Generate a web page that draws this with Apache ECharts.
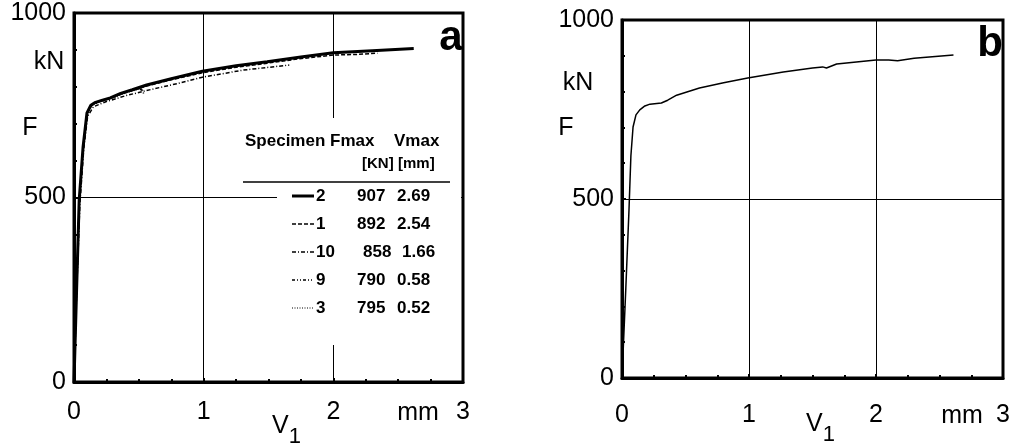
<!DOCTYPE html>
<html><head><meta charset="utf-8">
<script src="https://cdn.jsdelivr.net/npm/echarts@6/dist/echarts.min.js"></script>
<style>html,body{margin:0;padding:0;background:#fff}#c{width:1019px;height:448px}</style>
</head><body><div id="c"></div>
<script>
// ---- data ----
const xTicks = [0, 1, 2, 3];
const yTicks = [0, 500, 1000];
const spec2  = [[0,0],[0.02,250],[0.04,493],[0.07,637],[0.10,729],[0.13,750],[0.16,757],[0.22,764],[0.28,770],[0.36,782],[0.45,792],[0.56,805],[0.75,822],[0.99,842],[1.25,857],[1.49,868],[1.75,881],[2.0,892],[2.3,898],[2.62,904]];
const spec1  = [[0,0],[0.02,245],[0.04,488],[0.07,632],[0.10,726],[0.13,748],[0.16,755],[0.22,762],[0.28,768],[0.36,780],[0.45,790],[0.56,802],[0.75,819],[0.99,838],[1.25,853],[1.49,864],[1.74,876],[2.0,886],[2.2,888],[2.34,891]];
const spec10 = [[0,0],[0.02,240],[0.045,480],[0.075,630],[0.105,720],[0.15,746],[0.25,760],[0.4,776],[0.56,790],[0.8,809],[0.99,826],[1.3,845],[1.66,859]];
const spec9  = [[0,0],[0.02,245],[0.04,485],[0.07,635],[0.10,727],[0.14,752],[0.2,760],[0.3,772],[0.42,788],[0.5,795],[0.53,790],[0.54,778]];
const spec3  = [[0,0],[0.02,242],[0.042,482],[0.072,633],[0.10,725],[0.14,750],[0.2,759],[0.3,770],[0.42,786],[0.52,795]];
const panelB = [[0,0],[0.03,250],[0.055,469],[0.07,620],[0.087,701],[0.11,735],[0.14,749],[0.18,760],[0.22,765],[0.31,768],[0.36,776],[0.43,790],[0.61,810],[0.8,825],[0.99,838],[1.27,855],[1.5,866],[1.58,869],[1.61,866],[1.69,877],[2.0,888],[2.1,888],[2.17,886],[2.3,893],[2.61,902]];
const legSpec = ['2', '1', '10', '9', '3'];
const legFmax = ['907', '892', '858', '790', '795'];
const legVmax = ['2.69', '2.54', '1.66', '0.58', '0.52'];

const FONT = '"Liberation Sans", Arial, sans-serif';
const dashes = [null, [4,2], [4,2,1,2], [3,2,1,2,1,2], [1,1.5]];
const widths = [3, 1.5, 1.5, 1.5, 1.2];

const chart = echarts.init(document.getElementById('c'), null, {renderer:'canvas'});

function xAx(gi, margin, gap, pad){
  return {type:'value', gridIndex:gi, min:0, max:3, interval:1,
    axisLine:{show:true, onZero:false, lineStyle:{color:'#000', width:3}},
    axisTick:{show:true, inside:true, length:4, lineStyle:{color:'#000', width:2}},
    minorTick:{show:true, splitNumber:4, length:3, lineStyle:{color:'#000', width:2}},
    splitLine:{show:true, lineStyle:{color:'#000', width:1}},
    axisLabel:{show:true, color:'#000', fontSize:25, fontFamily:FONT, margin:margin,
      formatter:v=> xTicks.includes(v) ? String(v) : ''},
    name:'V{s|1}', nameLocation:'middle', nameGap:gap, nameMoveOverlap:false,
    nameTextStyle:{color:'#000', fontSize:25, fontFamily:FONT, padding:[0,0,0,pad],
      rich:{s:{fontSize:22, fontFamily:FONT, color:'#000', padding:[22,0,0,0]}}}
  };
}
function yAx(gi){
  return {type:'value', gridIndex:gi, min:0, max:1000, interval:500,
    axisLine:{show:true, onZero:false, lineStyle:{color:'#000', width:3}},
    axisTick:{show:true, inside:true, length:4, lineStyle:{color:'#000', width:2}},
    minorTick:{show:true, splitNumber:5, length:3, lineStyle:{color:'#000', width:2}},
    splitLine:{show:true, lineStyle:{color:'#000', width:1}},
    axisLabel:{show:true, color:'#000', fontSize:25, fontFamily:FONT, margin:8,
      formatter:v=> yTicks.includes(v) ? String(v) : ''}
  };
}

const specData = [spec2, spec1, spec10, spec9, spec3];
const series = specData.map((d,i)=>({
  type:'line', xAxisIndex:0, yAxisIndex:0, data:d, showSymbol:false, smooth:false,
  lineStyle:{color:'#000', width:widths[i], type: dashes[i] || 'solid'}, z: 5 - i
}));
series.push({type:'line', xAxisIndex:1, yAxisIndex:1, data:panelB, showSymbol:false,
  lineStyle:{color:'#000', width:1.5}});

const g = [];
function txt(text, x, y, size, weight, align){
  g.push({type:'text', x:x, y:y, z:100, style:{text:text, font:(weight||'normal')+' '+size+'px '+FONT, fill:'#000', align:align||'left', verticalAlign:'middle'}});
}
// legend box (panel a)
g.push({type:'rect', z:90, shape:{x:277, y:118, width:184, height:227}, style:{fill:'#fff'}});
txt('Specimen', 245, 141, 17, 'bold');
txt('Fmax', 330, 141, 17, 'bold');
txt('Vmax', 394, 141, 17, 'bold');
txt('[KN]', 362, 164, 15, 'bold');
txt('[mm]', 398, 164, 15, 'bold');
g.push({type:'line', z:100, shape:{x1:243, y1:182, x2:450, y2:182}, style:{stroke:'#000', lineWidth:1.5}});
const rowY = [196, 224, 252, 280, 308];
legSpec.forEach((s,i)=>{
  g.push({type:'line', z:100, shape:{x1:292, y1:rowY[i], x2:314, y2:rowY[i]},
    style:{stroke:'#000', lineWidth:widths[i], lineDash:dashes[i]}});
  txt(s, 316, rowY[i], 17, 'bold');
  txt(legFmax[i], s==='10'?363:357, rowY[i], 17, 'bold');
  txt(legVmax[i], s==='10'?402:397, rowY[i], 17, 'bold');
});
// unit and symbol labels
txt('kN', 49, 62, 25, 'normal', 'center');
txt('F', 30, 128, 25, 'normal', 'center');
txt('kN', 578, 83, 25, 'normal', 'center');
txt('F', 566, 128, 25, 'normal', 'center');
txt('mm', 418, 413, 25, 'normal', 'center');
txt('mm', 962, 416, 25, 'normal', 'center');
txt('a', 451, 38, 42, 'bold', 'center');
txt('b', 990, 44, 42, 'bold', 'center');

chart.setOption({
  animation:false,
  backgroundColor:'#fff',
  grid:[
    {left:74, top:13, width:389, height:369, show:true, borderColor:'#000', borderWidth:3, outerBoundsMode:'none', containLabel:false},
    {left:622, top:20, width:381, height:358, show:true, borderColor:'#000', borderWidth:3, outerBoundsMode:'none', containLabel:false}
  ],
  xAxis:[xAx(0, 18, 22, 36), xAx(1, 25, 24, 16)],
  yAxis:[yAx(0), yAx(1)],
  series: series,
  graphic: g
});
</script></body></html>
